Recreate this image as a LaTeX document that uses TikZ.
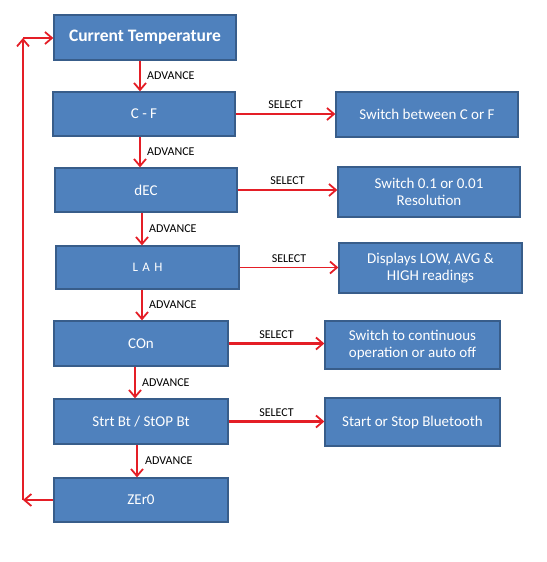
\documentclass[tikz,border=0pt]{standalone}
\usepackage{fontspec}
\setmainfont{Carlito}
\usetikzlibrary{arrows.meta}
\definecolor{boxfill}{HTML}{4F81BD}
\definecolor{boxline}{HTML}{385D8A}
\definecolor{arrred}{HTML}{E41E26}
\begin{document}
\begin{tikzpicture}[x=1pt,y=-1pt,
  box/.style={draw=boxline, line width=1.3pt, fill=boxfill, text=white, align=center,
    inner sep=2pt, font=\fontsize{15}{17.5}\selectfont},
  adv/.style={draw=arrred, line width=2.4pt, -{Straight Barb[length=7pt,width=12pt,line width=1.8pt]}},
  sel/.style={draw=arrred, line width=2.2pt, -{Straight Barb[length=7pt,width=12pt,line width=1.8pt]}},
  lab/.style={font=\fontsize{12}{14}\selectfont, text=black, inner sep=1pt}]
\useasboundingbox (0,0) rectangle (546,562);
% left column
\node[box, minimum width=182pt, minimum height=45pt, font=\bfseries\fontsize{17.5}{20}\selectfont] (ct) at (145,37.5) {Current Temperature};
\node[box, minimum width=182pt, minimum height=44pt] (cf) at (144,114) {C - F};
\node[box, minimum width=182pt, minimum height=44pt] (dec) at (146,190) {dEC};
\node[box, minimum width=183pt, minimum height=43pt, font=\fontsize{13}{15}\selectfont] (lah) at (147.5,267.5) {L\,\,A\,\,H};
\node[box, minimum width=174pt, minimum height=45pt] (con) at (141,343.5) {COn};
\node[box, minimum width=174pt, minimum height=45pt] (strt) at (141,421.5) {Strt Bt / StOP Bt};
\node[box, minimum width=174pt, minimum height=44pt] (zero) at (141,500) {ZEr0};
% right column
\node[box, minimum width=182pt, minimum height=45pt] (sw1) at (427,114.5) {Switch between C or F};
\node[box, minimum width=182pt, minimum height=50pt] (sw2) at (429,192) {Switch 0.1 or 0.01\\Resolution};
\node[box, minimum width=183pt, minimum height=50pt] (disp) at (430.5,268) {Displays LOW, AVG \&\\HIGH readings};
\node[box, minimum width=175pt, minimum height=48pt] (cont) at (412.5,345) {Switch to continuous\\operation or auto off};
\node[box, minimum width=175pt, minimum height=48pt] (bt) at (412.5,422) {Start or Stop Bluetooth};
% advance arrows
\draw[adv] ([xshift=-5pt]ct.south) -- ([xshift=-5pt]ct.south |- cf.north) node[lab, midway, right=5pt] {ADVANCE};
\draw[adv] ([xshift=-4pt]cf.south) -- ([xshift=-4pt]cf.south |- dec.north) node[lab, midway, right=5pt] {ADVANCE};
\draw[adv] ([xshift=-4pt]dec.south) -- ([xshift=-4pt]dec.south |- lah.north) node[lab, midway, right=5pt] {ADVANCE};
\draw[adv] ([xshift=-5.5pt]lah.south) -- ([xshift=-5.5pt]lah.south |- con.north) node[lab, midway, right=5pt] {ADVANCE};
\draw[adv] ([xshift=-6pt]con.south) -- ([xshift=-6pt]con.south |- strt.north) node[lab, midway, right=5pt] {ADVANCE};
\draw[adv] ([xshift=-4pt]strt.south) -- ([xshift=-4pt]strt.south |- zero.north) node[lab, midway, right=6pt] {ADVANCE};
% select arrows
\draw[sel] (cf.east) -- (cf.east -| sw1.west) node[lab, midway, above=3pt] {SELECT};
\draw[sel] (dec.east) -- (dec.east -| sw2.west) node[lab, midway, above=3pt] {SELECT};
\draw[sel, line width=1.2pt] (lah.east) -- (lah.east -| disp.west) node[lab, midway, above=3pt] {SELECT};
\draw[sel] (con.east) -- (con.east -| cont.west) node[lab, midway, above=3pt] {SELECT};
\draw[sel] (strt.east) -- (strt.east -| bt.west) node[lab, midway, above=3pt] {SELECT};
% loop back
\coordinate (lb) at (23,500);
\coordinate (lt) at (23,38);
\draw[adv] (zero.west) -- (lb);
\draw[adv] (lb) -- (lt);
\draw[adv] (lt) -- (lt -| ct.west);
\end{tikzpicture}
\end{document}
